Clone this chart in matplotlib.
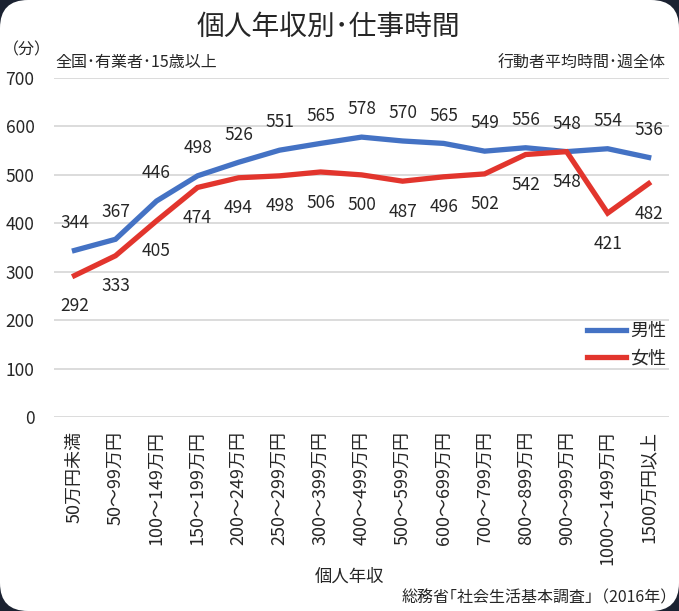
import matplotlib
matplotlib.use("Agg")
import matplotlib.pyplot as plt
from matplotlib.patches import FancyBboxPatch

plt.rcParams["font.family"] = ["Noto Sans CJK JP", "DejaVu Sans"]

categories = ["50万円未満", "50～99万円", "100～149万円", "150～199万円",
              "200～249万円", "250～299万円", "300～399万円", "400～499万円",
              "500～599万円", "600～699万円", "700～799万円", "800～899万円",
              "900～999万円", "1000～1499万円", "1500万円以上"]
male = [344, 367, 446, 498, 526, 551, 565, 578, 570, 565, 549, 556, 548, 554, 536]
female = [292, 333, 405, 474, 494, 498, 506, 500, 487, 496, 502, 542, 548, 421, 482]
yticks = [0, 100, 200, 300, 400, 500, 600, 700]

TXT = "#262626"
BLUE = "#4472C4"
RED = "#E2352D"

fig = plt.figure(figsize=(6.79, 6.11), dpi=100)
fig.patch.set_facecolor("#1b2231")
bg = FancyBboxPatch((0, 0), 6.79, 6.11, boxstyle="round,pad=0,rounding_size=0.28",
                    transform=fig.dpi_scale_trans, facecolor="white", edgecolor="none", zorder=-10)
fig.patches.append(bg)

ax = fig.add_axes([0.0795, 0.3175, 0.906, 0.5548])
ax.set_facecolor("white")
x = list(range(len(categories)))

ax.plot(x, male, color=BLUE, lw=3.8, label="男性", solid_joinstyle="miter", zorder=3)
ax.plot(x, female, color=RED, lw=3.8, label="女性", solid_joinstyle="miter", zorder=3)

for xi, v in zip(x, male):
    ax.annotate(str(v), (xi, v), xytext=(0, 20), textcoords="offset points",
                ha="center", va="center", fontsize=12.5, color=TXT)
for xi, v in zip(x, female):
    ax.annotate(str(v), (xi, v), xytext=(0, -22), textcoords="offset points",
                ha="center", va="center", fontsize=12.5, color=TXT)

ax.set_xlim(-0.5, len(categories) - 0.5)
ax.set_ylim(0, 700)
ax.set_yticks(yticks)
ax.set_yticklabels([str(t) for t in yticks], fontsize=12.5, color=TXT)
ax.set_xticks(x)
ax.set_xticklabels(categories, rotation=90, fontsize=13, color=TXT)
ax.tick_params(axis="y", length=0, pad=14)
ax.tick_params(axis="x", length=0, pad=10)
ax.grid(axis="y", color="#d9d9d9", lw=1.3, zorder=0)
for s in ax.spines.values():
    s.set_visible(False)

ax.legend(loc="upper right", bbox_to_anchor=(0.995, 0.28), frameon=False, fontsize=13,
          handlelength=2.2, handletextpad=0.2, labelspacing=0.5, borderaxespad=0,
          borderpad=0, labelcolor=TXT)

fig.text(328 / 679, 1 - 27 / 611, "個人年収別･仕事時間", ha="center", va="center",
         fontsize=20, color=TXT)
fig.text(3 / 679, 1 - 50 / 611, "（分）", ha="left", va="center", fontsize=11.5, color=TXT)
fig.text(55 / 679, 1 - 63 / 611, "全国･有業者･15歳以上", ha="left", va="center",
         fontsize=11.5, color=TXT)
fig.text(666 / 679, 1 - 63 / 611, "行動者平均時間･週全体", ha="right", va="center",
         fontsize=11.5, color=TXT)
fig.text(350 / 679, 1 - 577 / 611, "個人年収", ha="center", va="center",
         fontsize=12.5, color=TXT)
fig.text(677 / 679, 1 - 598 / 611, "総務省｢社会生活基本調査｣（2016年）", ha="right",
         va="center", fontsize=11.5, color=TXT)

fig.savefig("out.png", dpi=100, facecolor=fig.get_facecolor())
